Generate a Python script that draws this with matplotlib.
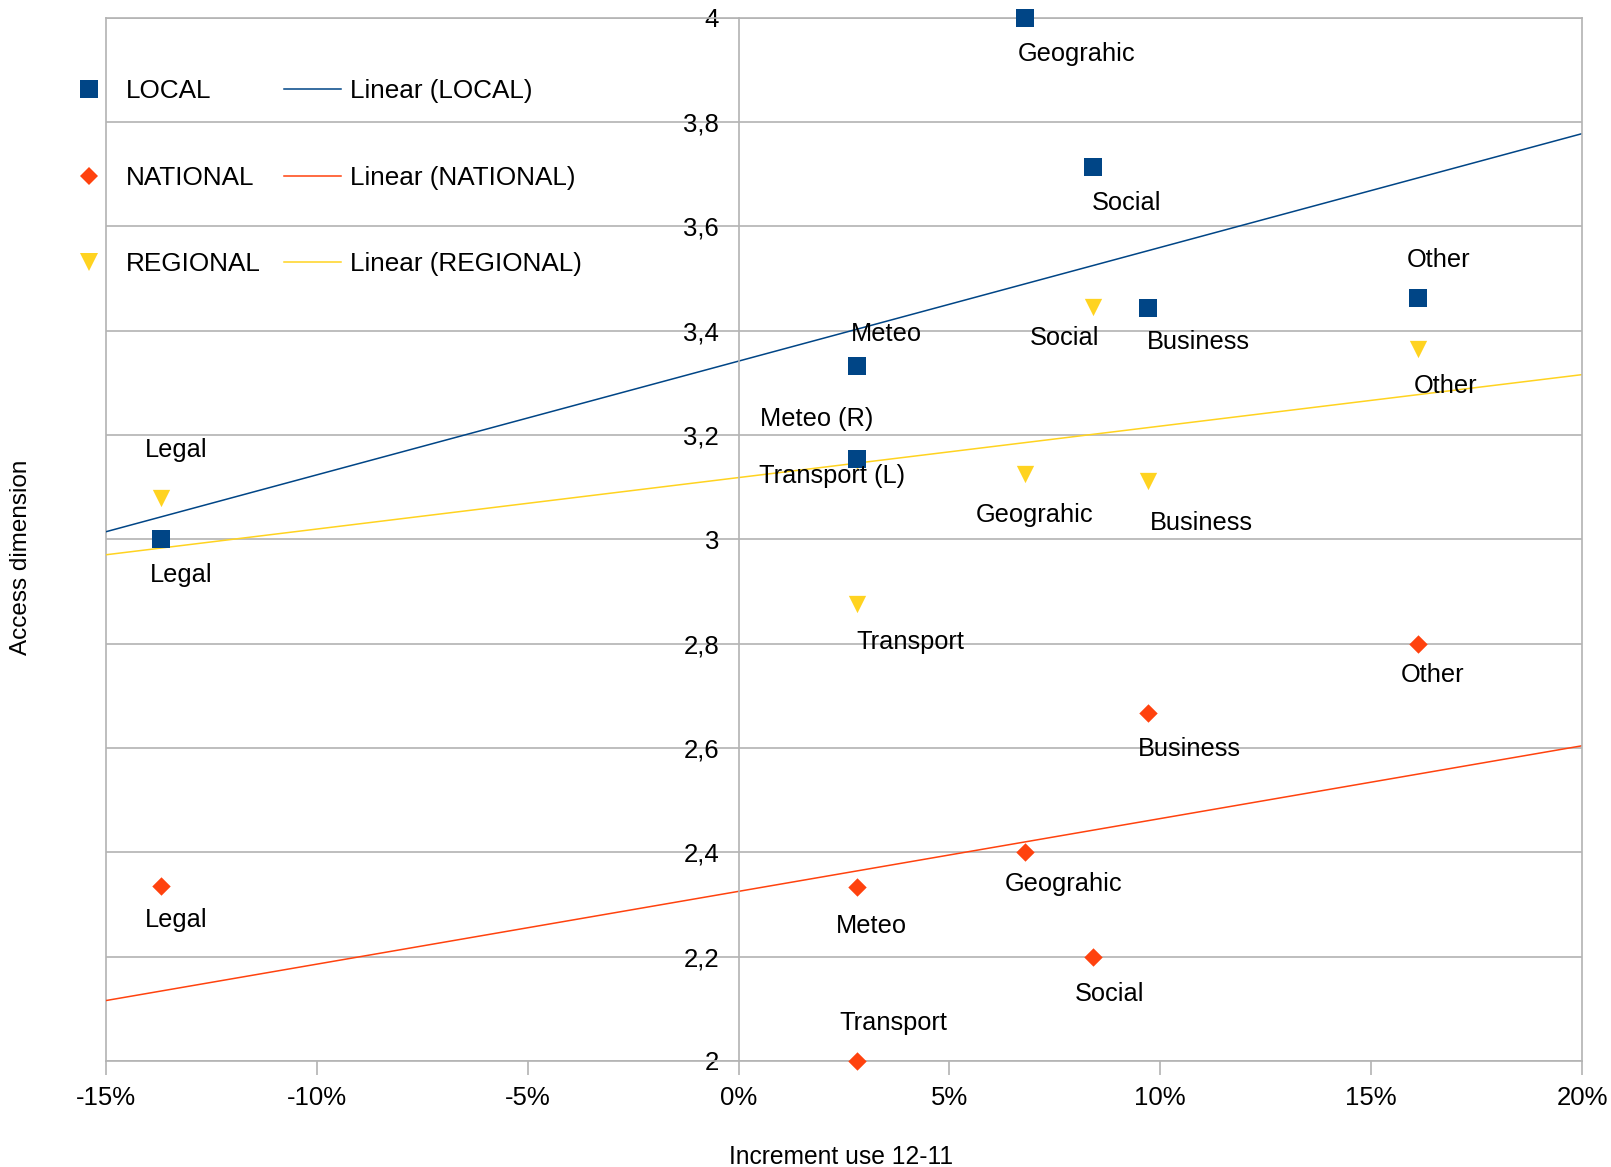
import matplotlib
matplotlib.use("Agg")
import matplotlib.pyplot as plt
import numpy as np
from matplotlib.ticker import FuncFormatter, MultipleLocator
from matplotlib.lines import Line2D

plt.rcParams['font.family'] = ['Liberation Sans', 'DejaVu Sans']

# data (increment as fraction, access dimension score)
local_labels = ["Legal", "Meteo", "Transport (L)", "Geograhic", "Social", "Business", "Other"]
local_x = [-0.137, 0.028, 0.028, 0.068, 0.084, 0.097, 0.161]
local_y = [3.0, 3.333, 3.154, 4.0, 3.714, 3.443, 3.463]

national_labels = ["Legal", "Meteo", "Transport", "Geograhic", "Social", "Business", "Other"]
national_x = [-0.137, 0.028, 0.028, 0.068, 0.084, 0.097, 0.161]
national_y = [2.335, 2.333, 2.0, 2.4, 2.2, 2.667, 2.8]

regional_labels = ["Legal", "Meteo (R)", "Transport", "Geograhic", "Social", "Business", "Other"]
regional_x = [-0.137, 0.028, 0.028, 0.068, 0.084, 0.097, 0.161]
regional_y = [3.079, 3.15, 2.876, 3.126, 3.445, 3.112, 3.364]

# label offsets in pixels (dx, dy)
local_off = [(20, -36), (30, 32), (-25, -17), (51, -36), (34, -36), (51, -34), (21, 38)]
national_off = [(15, -34), (15, -39), (37, 38), (38, -32), (17, -37), (42, -36), (15, -31)]
regional_off = [(15, 48), (-40, 42), (54, -38), (9, -41), (-28, -31), (54, -42), (28, -37)]

c_local = '#004586'
c_nat = '#ff420e'
c_reg = '#ffd320'
grey = '#b3b3b3'

fig = plt.figure(figsize=(16.11, 11.67), dpi=100)
ax = fig.add_axes([106/1611, 1 - 1061/1167, (1582-106)/1611, (1061-17.5)/1167])

xmin, xmax = -0.15, 0.20
ax.set_xlim(xmin, xmax)
ax.set_ylim(2, 4)

ax.yaxis.set_major_locator(MultipleLocator(0.2))
ax.xaxis.set_major_locator(MultipleLocator(0.05))
ax.grid(axis='y', color=grey, linewidth=1.2)
ax.set_axisbelow(True)

for s in ['top', 'right', 'bottom', 'left']:
    ax.spines[s].set_color(grey)
    ax.spines[s].set_linewidth(1.2)
ax.spines['left'].set_position(('data', 0))
ax.axvline(xmin, color=grey, linewidth=1.2, clip_on=False, zorder=0)

ax.yaxis.set_major_formatter(FuncFormatter(lambda v, p: ('%g' % round(v, 1)).replace('.', ',')))
ax.xaxis.set_major_formatter(FuncFormatter(lambda v, p: '%d%%' % round(v * 100)))
ax.tick_params(axis='y', length=0, pad=14, labelsize=18.5)
ax.tick_params(axis='x', length=10, width=1.2, color=grey, direction='out', pad=8, labelsize=18.5)

series = [
    (local_x, local_y, local_labels, local_off, c_local, 's', 156, 'LOCAL', 5),
    (national_x, national_y, national_labels, national_off, c_nat, 'D', 88, 'NATIONAL', 3),
    (regional_x, regional_y, regional_labels, regional_off, c_reg, 'v', 155, 'REGIONAL', 3),
]

xs_line = np.array([xmin, xmax])
marker_handles = []
line_handles = []
for xs, ys, labs, offs, col, mk, size, name, zo in series:
    slope, icpt = np.polyfit(xs, ys, 1)
    ax.plot(xs_line, slope * xs_line + icpt, color=col, linewidth=1.1, zorder=2)
    ax.scatter(xs, ys, marker=mk, s=size, color=col, linewidths=0, zorder=zo, clip_on=False)
    for x, y, t, (dx, dy) in zip(xs, ys, labs, offs):
        ax.annotate(t, (x, y), xytext=(dx, dy), textcoords='offset pixels',
                    ha='center', va='center', fontsize=18.3, zorder=6, annotation_clip=False)
    marker_handles.append(Line2D([], [], linestyle='none', marker=mk, color=col,
                                 markersize=np.sqrt(size), markeredgewidth=0, label=name))
    line_handles.append(Line2D([], [], color=col, linewidth=1.1, label='Linear (%s)' % name))

leg = fig.legend(handles=marker_handles + line_handles, ncol=2, loc='upper left',
                 bbox_to_anchor=(60/1611, 1 - 79/1167), frameon=False, fontsize=18.8,
                 handlelength=2.2, handletextpad=0.33, columnspacing=0.88,
                 labelspacing=2.4, borderpad=0, borderaxespad=0)

fig.text(21/1611, 1 - 557/1167, 'Access dimension', rotation=90, ha='center', va='center', fontsize=17.5)
fig.text(841/1611, 1 - 1157/1167, 'Increment use 12-11', ha='center', va='center', fontsize=17.7)

fig.savefig('out.png', dpi=100)
